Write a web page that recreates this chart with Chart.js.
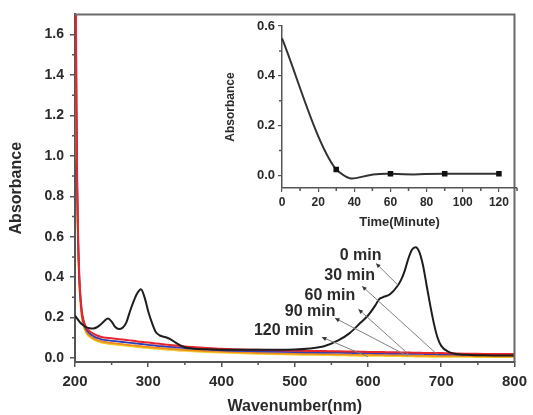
<!DOCTYPE html>
<html>
<head>
<meta charset="utf-8">
<script src="https://cdn.jsdelivr.net/npm/chart.js@4.4.1/dist/chart.umd.min.js"></script>
<style>
html, body { margin: 0; padding: 0; background: #fff; }
#wrap { position: relative; width: 533px; height: 415px; }
#mainChart { position: absolute; left: 0; top: 0; }
#insetChart { position: absolute; left: 220px; top: 0; }
</style>
</head>
<body>
<div id="wrap">
  <canvas id="mainChart" width="533" height="415" style="width:533px;height:415px"></canvas>
  <canvas id="insetChart" width="305" height="235" style="width:305px;height:235px"></canvas>
</div>
<script>
// wavelength grid (nm)
const wavelengths = [200, 201, 202, 203, 204, 205, 206, 208, 210,
  213, 216, 220, 225, 230, 235, 240, 245, 250, 255,
  260, 265, 270, 275, 280, 285, 290, 295, 300, 305,
  310, 315, 320, 325, 330, 340, 350, 360, 380, 400,
  450, 500, 520, 540, 560, 575, 590, 600, 610, 615,
  620, 630, 640, 645, 650, 655, 660, 665, 670, 675,
  680, 685, 690, 695, 700, 710, 720, 740, 760, 780,
  800];

// absorbance at each time
const abs0 = [0.21, 0.205, 0.2, 0.195, 0.19, 0.185, 0.18, 0.172, 0.165,
  0.157, 0.151, 0.147, 0.146, 0.152, 0.165, 0.183, 0.195, 0.18, 0.153,
  0.143, 0.15, 0.175, 0.23, 0.28, 0.32, 0.34, 0.30, 0.23, 0.175,
  0.13, 0.113, 0.106, 0.101, 0.093, 0.07, 0.053, 0.047, 0.043, 0.041,
  0.04, 0.042, 0.047, 0.058, 0.088, 0.123, 0.175, 0.21, 0.26, 0.29,
  0.30, 0.315, 0.355, 0.385, 0.43, 0.49, 0.535, 0.548, 0.525, 0.46,
  0.36, 0.26, 0.17, 0.10, 0.06, 0.03, 0.02, 0.015, 0.013, 0.012,
  0.012];
const abs30 = [3.0, 1.9, 1.25, 0.88, 0.65, 0.5, 0.4, 0.28, 0.215,
  0.17, 0.148, 0.132, 0.12, 0.111, 0.105, 0.101, 0.099, 0.097, 0.095,
  0.093, 0.091, 0.089, 0.087, 0.085, 0.082, 0.08, 0.078, 0.076, 0.074,
  0.072, 0.07, 0.068, 0.066, 0.064, 0.06, 0.057, 0.054, 0.049, 0.045,
  0.04, 0.036, 0.035, 0.034, 0.033, 0.032, 0.031, 0.03, 0.03, 0.029,
  0.029, 0.028, 0.028, 0.027, 0.027, 0.027, 0.026, 0.026, 0.026, 0.025,
  0.025, 0.025, 0.024, 0.024, 0.024, 0.023, 0.022, 0.021, 0.02, 0.02,
  0.019];
const abs60 = [3.0, 1.85, 1.2, 0.85, 0.62, 0.48, 0.38, 0.27, 0.205,
  0.16, 0.138, 0.121, 0.108, 0.099, 0.093, 0.089, 0.087, 0.085, 0.083,
  0.081, 0.079, 0.077, 0.075, 0.073, 0.071, 0.069, 0.067, 0.065, 0.063,
  0.061, 0.059, 0.058, 0.056, 0.055, 0.052, 0.049, 0.046, 0.042, 0.038,
  0.033, 0.029, 0.028, 0.027, 0.026, 0.025, 0.024, 0.024, 0.023, 0.023,
  0.023, 0.022, 0.022, 0.021, 0.021, 0.021, 0.02, 0.02, 0.02, 0.02,
  0.019, 0.019, 0.019, 0.018, 0.018, 0.018, 0.017, 0.016, 0.016, 0.015,
  0.015];
const abs90 = [3.0, 1.8, 1.15, 0.82, 0.6, 0.46, 0.36, 0.25, 0.19,
  0.148, 0.126, 0.11, 0.098, 0.089, 0.083, 0.079, 0.076, 0.074, 0.072,
  0.07, 0.068, 0.066, 0.064, 0.062, 0.06, 0.058, 0.056, 0.055, 0.053,
  0.051, 0.05, 0.048, 0.047, 0.045, 0.043, 0.04, 0.038, 0.034, 0.031,
  0.025, 0.021, 0.02, 0.019, 0.018, 0.017, 0.016, 0.016, 0.015, 0.015,
  0.015, 0.014, 0.014, 0.014, 0.013, 0.013, 0.013, 0.012, 0.012, 0.012,
  0.012, 0.011, 0.011, 0.011, 0.011, 0.01, 0.01, 0.009, 0.009, 0.008,
  0.008];
const abs120 = [3.0, 1.75, 1.1, 0.8, 0.58, 0.44, 0.35, 0.24, 0.18,
  0.142, 0.12, 0.104, 0.092, 0.083, 0.077, 0.073, 0.07, 0.068, 0.066,
  0.064, 0.062, 0.06, 0.058, 0.056, 0.054, 0.052, 0.05, 0.049, 0.047,
  0.045, 0.044, 0.042, 0.041, 0.04, 0.037, 0.035, 0.033, 0.029, 0.026,
  0.02, 0.016, 0.015, 0.014, 0.013, 0.012, 0.011, 0.011, 0.01, 0.01,
  0.01, 0.009, 0.009, 0.009, 0.008, 0.008, 0.008, 0.007, 0.007, 0.007,
  0.007, 0.006, 0.006, 0.006, 0.006, 0.005, 0.005, 0.005, 0.004, 0.004,
  0.004];

// inset: absorbance of the 664 nm band vs time
const insetTimes = [0, 30, 60, 90, 120];
const insetAbs = [0.55, 0.024, 0.007, 0.007, 0.007];

const curveLabels = ['0 min', '30 min', '60 min', '90 min', '120 min'];

// minor tick positions
const mainMinorX = [250, 350, 450, 550, 650, 750];
const mainMinorY = [0.1, 0.3, 0.5, 0.7, 0.9, 1.1, 1.3, 1.5];
const insetMinorX = [10, 30, 50, 70, 90, 110, 130];
const insetMinorY = [0.1, 0.3, 0.5];

const FONT = "'Liberation Sans', Arial, sans-serif";
const INK = '#2a2a2a';
const AXIS = '#555';
Chart.defaults.font.family = FONT;
Chart.defaults.color = INK;

function toPoints(xs, ys) {
  return xs.map((x, i) => ({ x: x, y: ys[i] }));
}

// minor ticks + top/right frame
function axisDecor(minorX, minorY, frame) {
  return {
    id: 'axisDecor',
    afterDraw(chart) {
      const ctx = chart.ctx, a = chart.chartArea;
      const sx = chart.scales.x, sy = chart.scales.y;
      ctx.save();
      ctx.strokeStyle = AXIS;
      ctx.lineWidth = 1.5;
      ctx.beginPath();
      minorX.forEach(v => {
        const px = sx.getPixelForValue(v);
        ctx.moveTo(px, a.bottom); ctx.lineTo(px, a.bottom + 3);
      });
      minorY.forEach(v => {
        const py = sy.getPixelForValue(v);
        ctx.moveTo(a.left, py); ctx.lineTo(a.left - 3, py);
      });
      ctx.stroke();
      if (frame) {
        ctx.strokeStyle = '#6a6a6a';
        ctx.lineWidth = 2;
        ctx.beginPath();
        ctx.moveTo(a.left, a.top); ctx.lineTo(a.right, a.top); ctx.lineTo(a.right, a.bottom);
        ctx.stroke();
      }
      ctx.restore();
    }
  };
}

// curve labels with leader lines (data coordinates)
const leaders = [
  { tx: 590, ty: 0.507, x1: 611, y1: 0.468, x2: 641, y2: 0.36 },
  { tx: 575, ty: 0.409, x1: 592, y1: 0.355, x2: 695, y2: 0.016 },
  { tx: 548, ty: 0.31, x1: 587, y1: 0.241, x2: 657, y2: 0.013 },
  { tx: 521, ty: 0.227, x1: 555, y1: 0.197, x2: 654, y2: 0.01 },
  { tx: 485, ty: 0.133, x1: 537, y1: 0.103, x2: 600, y2: 0.006 }
];

const leaderPlugin = {
  id: 'leaders',
  afterDatasetsDraw(chart) {
    const ctx = chart.ctx;
    const sx = chart.scales.x, sy = chart.scales.y;
    ctx.save();
    leaders.forEach((l, i) => {
      const ax = sx.getPixelForValue(l.x1), ay = sy.getPixelForValue(l.y1);
      const bx = sx.getPixelForValue(l.x2), by = sy.getPixelForValue(l.y2);
      ctx.strokeStyle = '#808080';
      ctx.lineWidth = 1;
      ctx.beginPath();
      ctx.moveTo(ax, ay); ctx.lineTo(bx, by);
      ctx.stroke();
      // small arrow head at the label end
      const ang = Math.atan2(ay - by, ax - bx);
      ctx.fillStyle = '#333';
      ctx.beginPath();
      ctx.moveTo(ax, ay);
      ctx.lineTo(ax - 5 * Math.cos(ang - 0.45), ay - 5 * Math.sin(ang - 0.45));
      ctx.lineTo(ax - 5 * Math.cos(ang + 0.45), ay - 5 * Math.sin(ang + 0.45));
      ctx.closePath();
      ctx.fill();
      ctx.fillStyle = INK;
      ctx.font = 'bold 16px ' + FONT;
      ctx.textAlign = 'center';
      ctx.textBaseline = 'middle';
      ctx.fillText(curveLabels[i], sx.getPixelForValue(l.tx), sy.getPixelForValue(l.ty));
    });
    ctx.restore();
  }
};

const series = [
  { data: abs0, color: '#1e1e1e', width: 2 },
  { data: abs30, color: '#e8242c', width: 2 },
  { data: abs60, color: '#2f3fb5', width: 1.8 },
  { data: abs90, color: '#f08a1c', width: 1.8 },
  { data: abs120, color: '#f4cd2a', width: 1.8 }
];

new Chart(document.getElementById('mainChart'), {
  type: 'line',
  data: {
    datasets: series.map((s, i) => ({
      label: curveLabels[i],
      data: toPoints(wavelengths, s.data),
      borderColor: s.color,
      borderWidth: s.width,
      pointRadius: 0,
      cubicInterpolationMode: 'monotone',
      fill: false
    }))
  },
  options: {
    responsive: false,
    animation: false,
    layout: { padding: { top: 14, right: 13, left: 0, bottom: 0 } },
    plugins: { legend: { display: false }, tooltip: { enabled: false } },
    scales: {
      x: {
        type: 'linear', min: 200, max: 800,
        ticks: { stepSize: 100, includeBounds: false, padding: 6, font: { size: 15, weight: 'bold' }, color: INK },
        grid: { drawOnChartArea: false, tickLength: 5, color: AXIS, lineWidth: 1.5 },
        border: { color: AXIS, width: 2 },
        title: { display: true, text: 'Wavenumber(nm)', padding: 0, font: { size: 16, weight: 'bold', lineHeight: 1 }, color: INK },
        afterFit(scale) { scale.height = 53; }
      },
      y: {
        type: 'linear', min: -0.02, max: 1.7,
        ticks: { stepSize: 0.2, includeBounds: false, padding: 6, font: { size: 14, weight: 'bold' }, color: INK,
          callback: v => v.toFixed(1) },
        grid: { drawOnChartArea: false, tickLength: 5, color: AXIS, lineWidth: 1.5 },
        border: { color: AXIS, width: 2 },
        title: { display: true, text: 'Absorbance', padding: { top: 9, bottom: 0 }, font: { size: 16, weight: 'bold', lineHeight: 1 }, color: INK },
        afterFit(scale) { scale.width = 75; }
      }
    }
  },
  plugins: [axisDecor(mainMinorX, mainMinorY, true), leaderPlugin]
});

// inset: the first segment is drawn with a low tension, the rest with a high one
const insetPoints = toPoints(insetTimes, insetAbs);
const LINE = '#333';
new Chart(document.getElementById('insetChart'), {
  type: 'line',
  data: {
    datasets: [{
      label: 'Absorbance',
      data: insetPoints,
      borderColor: LINE,
      borderWidth: 2,
      tension: 0.7,
      segment: { borderColor: c => c.p0DataIndex === 0 ? 'rgba(0,0,0,0)' : LINE },
      pointStyle: 'rect',
      pointRadius: c => c.dataIndex === 0 ? 0 : 2.5,
      pointBackgroundColor: '#111',
      pointBorderColor: '#111',
      fill: false,
      clip: false
    }, {
      label: 'Absorbance (start)',
      data: insetPoints,
      borderColor: LINE,
      borderWidth: 2,
      tension: 0.25,
      segment: { borderColor: c => c.p0DataIndex === 0 ? LINE : 'rgba(0,0,0,0)' },
      pointRadius: 0,
      fill: false,
      clip: false
    }]
  },
  options: {
    responsive: false,
    animation: false,
    layout: { padding: { top: 26, right: 8, left: 0, bottom: 0 } },
    plugins: { legend: { display: false }, tooltip: { enabled: false } },
    scales: {
      x: {
        type: 'linear', min: 0, max: 130,
        ticks: { stepSize: 20, includeBounds: false, padding: 3, font: { size: 12, weight: 'bold' }, color: INK },
        grid: { drawOnChartArea: false, tickLength: 4, color: AXIS, lineWidth: 1.2 },
        border: { color: AXIS, width: 1.5 },
        title: { display: true, text: 'Time(Minute)', padding: { top: 0, bottom: 6 }, font: { size: 13, weight: 'bold', lineHeight: 1 }, color: INK },
        afterFit(scale) { scale.height = 47; }
      },
      y: {
        type: 'linear', min: -0.05, max: 0.6,
        ticks: { stepSize: 0.2, includeBounds: false, padding: 3, font: { size: 13, weight: 'bold' }, color: INK,
          callback: v => v.toFixed(1) },
        grid: { drawOnChartArea: false, tickLength: 4, color: AXIS, lineWidth: 1.2 },
        border: { color: AXIS, width: 1.5 },
        title: { display: true, text: 'Absorbance', padding: { top: 5, bottom: 0 }, font: { size: 12, weight: 'bold', lineHeight: 1 }, color: INK },
        afterFit(scale) { scale.width = 62; }
      }
    }
  },
  plugins: [axisDecor(insetMinorX, insetMinorY, false)]
});
</script>
</body>
</html>
